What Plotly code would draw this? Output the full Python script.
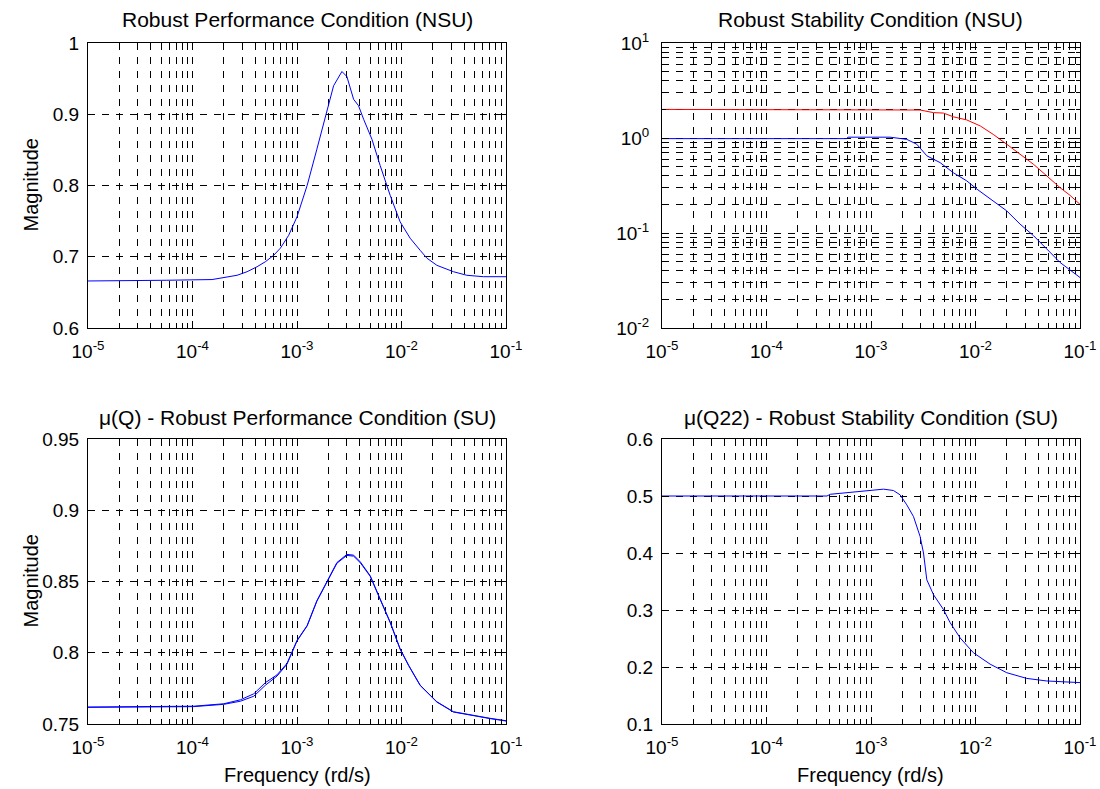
import plotly.graph_objects as go

# ---------------- data ----------------
# Top-left: Robust Performance Condition (NSU)
rp_nsu_freq = [1.0e-5, 5.5e-5, 5.6e-5, 1.54e-4, 1.99e-4, 2.67e-4, 3.33e-4, 4.15e-4, 4.98e-4,
               5.98e-4, 6.93e-4, 8.32e-4, 1.0e-3, 1.25e-3, 1.55e-3, 1.94e-3, 2.24e-3, 2.69e-3,
               3.0e-3, 3.48e-3, 3.88e-3, 4.34e-3, 5.21e-3, 6.25e-3, 7.80e-3, 9.7e-3, 1.21e-2,
               1.51e-2, 1.75e-2, 2.18e-2, 3.14e-2, 4.21e-2, 6.07e-2, 0.1]
rp_nsu_mag = [0.666, 0.666, 0.667, 0.668, 0.671, 0.674, 0.679, 0.686, 0.693,
              0.702, 0.712, 0.730, 0.756, 0.800, 0.851, 0.907, 0.940, 0.960,
              0.953, 0.921, 0.912, 0.893, 0.865, 0.828, 0.786, 0.749, 0.726,
              0.709, 0.698, 0.688, 0.679, 0.674, 0.672, 0.672]

# Top-right: Robust Stability Condition (NSU)
rs_nsu_freq_red = [1.0e-5, 5.87e-4, 1.52e-3, 2.95e-3, 3.96e-3, 4.93e-3, 6.15e-3, 8.24e-3,
                   1.11e-2, 1.48e-2, 1.99e-2, 2.67e-2, 3.58e-2, 4.8e-2, 6.44e-2, 8.0e-2, 0.1]
rs_nsu_mag_red = [2.0, 2.0, 2.0, 1.97, 1.85, 1.83, 1.67, 1.55,
                  1.34, 1.09, 0.86, 0.67, 0.53, 0.40, 0.30, 0.25, 0.20]
rs_nsu_freq_blue = [1.0e-5, 5.87e-4, 6.0e-4, 1.52e-3, 2.2e-3, 2.74e-3, 3.42e-3, 4.59e-3,
                    6.15e-3, 8.24e-3, 1.03e-2, 1.38e-2, 1.99e-2, 2.67e-2, 3.58e-2, 4.8e-2,
                    6.44e-2, 0.1]
rs_nsu_mag_blue = [0.985, 0.985, 1.02, 1.02, 0.968, 0.86, 0.65, 0.55,
                   0.43, 0.354, 0.29, 0.23, 0.171, 0.124, 0.094, 0.068,
                   0.049, 0.034]

# Bottom-left: mu(Q) - Robust Performance Condition (SU), upper and lower bounds
rp_su_freq = [1.0e-5, 1.03e-4, 1.99e-4, 2.88e-4, 3.86e-4, 4.98e-4, 6.44e-4, 8.02e-4, 1.0e-3,
              1.25e-3, 1.55e-3, 1.94e-3, 2.41e-3, 3.0e-3, 3.48e-3, 4.03e-3, 5.02e-3, 6.25e-3,
              7.80e-3, 9.7e-3, 1.17e-2, 1.51e-2, 2.18e-2, 3.14e-2, 4.88e-2, 7.03e-2, 0.1]
rp_su_upper = [0.7619, 0.7625, 0.7642, 0.7670, 0.7712, 0.7790, 0.7845, 0.7925, 0.8086,
               0.8191, 0.8365, 0.8500, 0.8633, 0.8690, 0.8685, 0.8638, 0.8540, 0.8377,
               0.8214, 0.8028, 0.7912, 0.7772, 0.7656, 0.7586, 0.7558, 0.7540, 0.7523]
rp_su_lower = [0.7617, 0.7622, 0.7638, 0.7660, 0.7695, 0.7772, 0.7836, 0.7920, 0.8083,
               0.8188, 0.8362, 0.8497, 0.8628, 0.8683, 0.8678, 0.8632, 0.8536, 0.8374,
               0.8211, 0.8025, 0.7910, 0.7770, 0.7654, 0.7584, 0.7556, 0.7538, 0.7521]

# Bottom-right: mu(Q22) - Robust Stability Condition (SU)
rs_su_freq = [1.0e-5, 3.79e-4, 4.07e-4, 6.81e-4, 1.06e-3, 1.32e-3, 1.64e-3, 1.90e-3, 2.20e-3,
              2.55e-3, 2.95e-3, 3.18e-3, 3.42e-3, 3.96e-3, 4.93e-3, 5.71e-3, 7.13e-3, 9.55e-3,
              1.38e-2, 1.99e-2, 3.09e-2, 4.80e-2, 0.1]
rs_su_mag = [0.500, 0.500, 0.503, 0.5067, 0.5096, 0.512, 0.5096, 0.502, 0.4845,
             0.464, 0.429, 0.400, 0.353, 0.327, 0.301, 0.278, 0.251, 0.225,
             0.205, 0.190, 0.180, 0.1755, 0.1726]

# tick labels
x_tickvals = [1e-5, 1e-4, 1e-3, 1e-2, 1e-1]
x_ticktext = ["10<sup>-5</sup>", "10<sup>-4</sup>", "10<sup>-3</sup>", "10<sup>-2</sup>", "10<sup>-1</sup>"]
ylog_tickvals = [1e-2, 1e-1, 1, 10]
ylog_ticktext = ["10<sup>-2</sup>", "10<sup>-1</sup>", "10<sup>0</sup>", "10<sup>1</sup>"]

titles = ["Robust Performance Condition (NSU)", "Robust Stability Condition (NSU)",
          "\u03bc(Q) - Robust Performance Condition (SU)", "\u03bc(Q22) - Robust Stability Condition (SU)"]

# ---------------- figure ----------------
FONT = "Liberation Sans, Arial, sans-serif"
W, H = 1100, 789
BLUE, RED = "#0000ff", "#ff0000"
DASH = "7px,7px"

fig = go.Figure()
line = lambda c: dict(color=c, width=1)
fig.add_trace(go.Scatter(x=rp_nsu_freq, y=rp_nsu_mag, mode="lines", line=line(BLUE), xaxis="x", yaxis="y"))
fig.add_trace(go.Scatter(x=rs_nsu_freq_red, y=rs_nsu_mag_red, mode="lines", line=line(RED), xaxis="x2", yaxis="y2"))
fig.add_trace(go.Scatter(x=rs_nsu_freq_blue, y=rs_nsu_mag_blue, mode="lines", line=line(BLUE), xaxis="x2", yaxis="y2"))
fig.add_trace(go.Scatter(x=rp_su_freq, y=rp_su_upper, mode="lines", line=line(BLUE), xaxis="x3", yaxis="y3"))
fig.add_trace(go.Scatter(x=rp_su_freq, y=rp_su_lower, mode="lines", line=line(BLUE), xaxis="x3", yaxis="y3"))
fig.add_trace(go.Scatter(x=rs_su_freq, y=rs_su_mag, mode="lines", line=line(BLUE), xaxis="x4", yaxis="y4"))

xL = [88 / W, 506 / W]
xR = [662 / W, 1080 / W]
yT = [1 - 328 / H, 1 - 43 / H]
yB = [1 - 724 / H, 1 - 439 / H]

common = dict(showline=True, linecolor="black", linewidth=1, mirror="allticks",
              ticks="inside", ticklen=7, tickcolor="black", tickwidth=1,
              showgrid=True, gridcolor="black", gridwidth=1, griddash=DASH,
              zeroline=False, automargin=False,
              tickfont=dict(family=FONT, size=19, color="black"))
minor = dict(ticks="inside", ticklen=4, tickcolor="black", showgrid=True,
             gridcolor="black", gridwidth=1, griddash=DASH, dtick="D1")

def xaxis(dom, anchor):
    return dict(common, domain=dom, anchor=anchor, type="log", range=[-5, -1],
                tickmode="array", tickvals=x_tickvals, ticktext=x_ticktext, minor=minor,
                ticklabelstandoff=6)

fig.update_layout(
    width=W, height=H, margin=dict(l=0, r=0, t=0, b=0),
    paper_bgcolor="white", plot_bgcolor="white", showlegend=False,
    font=dict(family=FONT, color="black"),
    xaxis=xaxis(xL, "y"), yaxis=dict(common, domain=yT, anchor="x", range=[0.6, 1.0], dtick=0.1, ticklabelstandoff=4),
    xaxis2=xaxis(xR, "y2"), yaxis2=dict(common, domain=yT, anchor="x2", type="log", range=[-2, 1],
                                        tickmode="array", tickvals=ylog_tickvals, ticktext=ylog_ticktext,
                                        minor=minor, ticklabelstandoff=8),
    xaxis3=xaxis(xL, "y3"), yaxis3=dict(common, domain=yB, anchor="x3", range=[0.75, 0.95], dtick=0.05, ticklabelstandoff=4),
    xaxis4=xaxis(xR, "y4"), yaxis4=dict(common, domain=yB, anchor="x4", range=[0.1, 0.6], dtick=0.1, ticklabelstandoff=4),
)

ann = []
cx = [(xL[0] + xL[1]) / 2, (xR[0] + xR[1]) / 2]
for i, t in enumerate(titles):
    ann.append(dict(text=t, x=cx[i % 2], y=(1 - 20 / H) if i < 2 else (1 - 417 / H),
                    xref="paper", yref="paper", xanchor="center", yanchor="middle",
                    showarrow=False, font=dict(family=FONT, size=21, color="black")))
for yc in [(yT[0] + yT[1]) / 2, (yB[0] + yB[1]) / 2]:
    ann.append(dict(text="Magnitude", x=30 / W, y=yc, xref="paper", yref="paper",
                    xanchor="center", yanchor="middle", textangle=-90, showarrow=False,
                    font=dict(family=FONT, size=20, color="black")))
for xc in cx:
    ann.append(dict(text="Frequency (rd/s)", x=xc, y=1 - 775 / H, xref="paper", yref="paper",
                    xanchor="center", yanchor="middle", showarrow=False,
                    font=dict(family=FONT, size=20, color="black")))
fig.update_layout(annotations=ann)

fig.write_html("out.html")
